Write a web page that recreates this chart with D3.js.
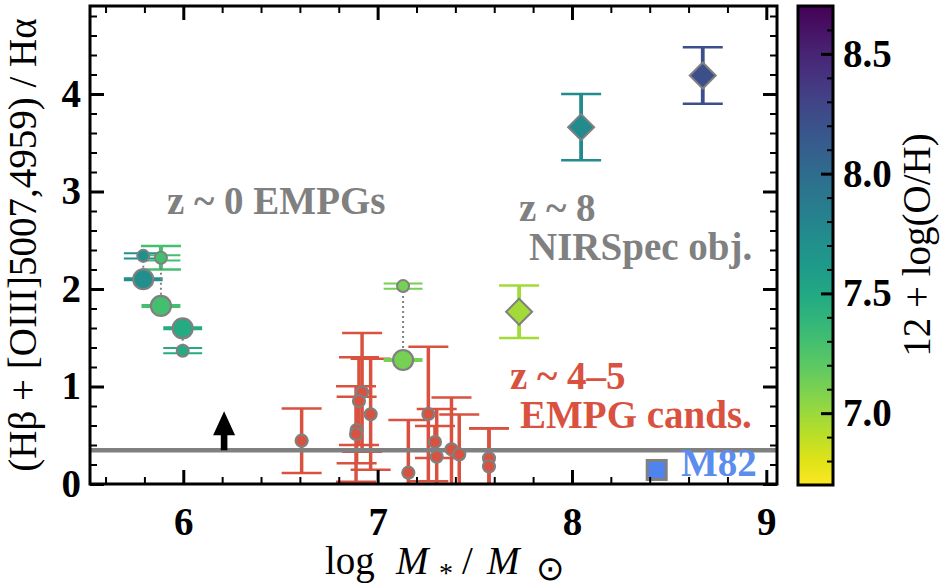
<!DOCTYPE html>
<html>
<head>
<meta charset="utf-8">
<script src="https://cdn.jsdelivr.net/npm/d3@7"></script>
<style>
  body { margin: 0; background: #ffffff; }
  svg { display: block; font-family: "Liberation Serif", "Times New Roman", Times, serif; }
</style>
</head>
<body>
<svg id="chart" width="944" height="587"></svg>
<script>
// ---------------- data ----------------
// z ~ 0 extremely metal-poor galaxies (two ratio estimates per galaxy)
const localMass        = [5.794, 5.885, 5.997, 7.131];
const localMassErr     = [0.10, 0.10, 0.10, 0.10];
const localRatioMain   = [2.10, 1.826, 1.597, 1.272];
const localRatioAlt    = [2.34, 2.32, 1.367, 2.03];
const localRatioAltErr = [0, 0.12, 0, 0];
const localOH          = [7.70, 7.30, 7.48, 7.12];

// z ~ 8 NIRSpec objects
const nirspecMass  = [7.728, 8.047, 8.673];
const nirspecRatio = [1.767, 3.66, 4.19];
const nirspecErr   = [0.27, 0.34, 0.29];
const nirspecOH    = [6.98, 7.74, 8.22];

// z ~ 4-5 EMPG candidates
const candMass  = [6.609, 6.920, 6.904, 6.964, 6.892, 6.889, 7.158, 7.261, 7.295, 7.304, 7.38, 7.42, 7.573, 7.573];
const candRatio = [0.444, 0.940, 0.851, 0.715, 0.554, 0.513, 0.116, 0.718, 0.431, 0.280, 0.356, 0.304, 0.263, 0.180];
const candErr   = [0.33, 0.61, 0.45, 0.57, 0.34, 0.49, 0.54, 0.69, 0.165, 0.49, 0.53, 0.41, 0.31, 0.39];

// M82
const m82Mass = 8.436;
const m82Ratio = 0.144;

// reference level and lower-limit arrow
const refLevel = 0.345;
const arrowMass = 6.21;
const arrowFrom = 0.345;
const arrowTo = 0.745;

// ticks
const xTicks = [6, 7, 8, 9];
const yTicks = [0, 1, 2, 3, 4];
const cbTicks = [7.0, 7.5, 8.0, 8.5];
const ohRange = [6.7, 8.7];

// ---------------- layout ----------------
const SERIF = "Liberation Serif, Times New Roman, serif";
const svg = d3.select("#chart");
const L = 90, R = 777, T = 6, B = 484;
const x = d3.scaleLinear().domain([5.52, 9.055]).range([L, R]);
const y = d3.scaleLinear().domain([0, 4.9]).range([B, B - 4.9 * 97.5]);
const ohColor = v => d3.interpolateViridis(1 - (v - ohRange[0]) / (ohRange[1] - ohRange[0]));

const FS = 39;
const edge = "#808080";
const red = "#d9513f";
const cap = 20;

svg.append("defs").append("clipPath").attr("id", "plotclip")
  .append("rect").attr("x", L).attr("y", T).attr("width", R - L).attr("height", B - T);

const plot = svg.append("g").attr("clip-path", "url(#plotclip)");

// vertical error bar with caps
function vErr(g, cx, v, e, color, w) {
  g.append("line").attr("x1", x(cx)).attr("x2", x(cx))
    .attr("y1", y(v - e)).attr("y2", y(v + e))
    .attr("stroke", color).attr("stroke-width", w);
  [v - e, v + e].forEach(t => {
    g.append("line").attr("x1", x(cx) - cap).attr("x2", x(cx) + cap)
      .attr("y1", y(t)).attr("y2", y(t))
      .attr("stroke", color).attr("stroke-width", 2.5);
  });
}

// z ~ 4-5 candidates: error bars
const candBars = plot.append("g");
candMass.forEach((m, i) => vErr(candBars, m, candRatio[i], candErr[i], red, 3.5));

// z ~ 8: error bars
const nsBars = plot.append("g");
nirspecMass.forEach((m, i) => vErr(nsBars, m, nirspecRatio[i], nirspecErr[i], ohColor(nirspecOH[i]), 3.8));

// z ~ 0: error bars
const locBars = plot.append("g");
localMass.forEach((m, i) => {
  const c = ohColor(localOH[i]);
  locBars.append("line")
    .attr("x1", x(m - localMassErr[i])).attr("x2", x(m + localMassErr[i]))
    .attr("y1", y(localRatioMain[i])).attr("y2", y(localRatioMain[i]))
    .attr("stroke", c).attr("stroke-width", 4);
  [-2.6, 2.6].forEach(off => {
    locBars.append("line")
      .attr("x1", x(m - localMassErr[i])).attr("x2", x(m + localMassErr[i]))
      .attr("y1", y(localRatioAlt[i]) + off).attr("y2", y(localRatioAlt[i]) + off)
      .attr("stroke", c).attr("stroke-width", 2);
  });
  if (localRatioAltErr[i] > 0) vErr(locBars, m, localRatioAlt[i], localRatioAltErr[i], c, 4);
});

// reference level
plot.append("line").attr("x1", L).attr("x2", R)
  .attr("y1", y(refLevel)).attr("y2", y(refLevel))
  .attr("stroke", "#808080").attr("stroke-width", 4.5);

// dotted connectors between the two estimates
plot.append("g").selectAll("line").data(localMass).join("line")
  .attr("x1", d => x(d)).attr("x2", d => x(d))
  .attr("y1", (d, i) => y(localRatioAlt[i])).attr("y2", (d, i) => y(localRatioMain[i]))
  .attr("stroke", "#808080").attr("stroke-width", 2).attr("stroke-dasharray", "2,3");

// candidate markers
plot.append("g").selectAll("circle").data(candMass).join("circle")
  .attr("cx", d => x(d)).attr("cy", (d, i) => y(candRatio[i])).attr("r", 6)
  .attr("fill", red).attr("stroke", edge).attr("stroke-width", 2.2);

// z ~ 0 markers
const locMarks = plot.append("g");
locMarks.selectAll("circle.alt").data(localMass).join("circle").attr("class", "alt")
  .attr("cx", d => x(d)).attr("cy", (d, i) => y(localRatioAlt[i])).attr("r", 6)
  .attr("fill", (d, i) => ohColor(localOH[i])).attr("stroke", edge).attr("stroke-width", 2);
locMarks.selectAll("circle.main").data(localMass).join("circle").attr("class", "main")
  .attr("cx", d => x(d)).attr("cy", (d, i) => y(localRatioMain[i])).attr("r", 10)
  .attr("fill", (d, i) => ohColor(localOH[i])).attr("stroke", edge).attr("stroke-width", 2.2);

// z ~ 8 diamonds
const dh = 13;
plot.append("g").selectAll("path").data(nirspecMass).join("path")
  .attr("transform", (d, i) => `translate(${x(d)},${y(nirspecRatio[i])})`)
  .attr("d", `M0,${-dh}L${dh},0L0,${dh}L${-dh},0Z`)
  .attr("fill", (d, i) => ohColor(nirspecOH[i])).attr("stroke", edge).attr("stroke-width", 2);

// M82
const sq = 19;
plot.append("rect")
  .attr("x", x(m82Mass) - sq / 2).attr("y", y(m82Ratio) - sq / 2)
  .attr("width", sq).attr("height", sq)
  .attr("fill", "#4f84ee").attr("stroke", edge).attr("stroke-width", 3);

// lower-limit arrow
{
  const ax = x(arrowMass), y0 = y(arrowFrom), y1 = y(arrowTo);
  const hw = 11, hh = 24, sw = 3.3;
  plot.append("path")
    .attr("d", `M${ax - sw},${y0}L${ax - sw},${y1 + hh}L${ax - hw},${y1 + hh}L${ax},${y1}` +
               `L${ax + hw},${y1 + hh}L${ax + sw},${y1 + hh}L${ax + sw},${y0}Z`)
    .attr("fill", "#000");
}

// ---------------- axes ----------------
const minorX = d3.range(5.6, 9.05, 0.2).map(v => +v.toFixed(1)).filter(v => !xTicks.includes(v));
const minorY = d3.range(0.2, 4.9, 0.2).map(v => +v.toFixed(1)).filter(v => !yTicks.includes(v));

function styleAxis(g) {
  g.select(".domain").remove();
  g.selectAll(".tick line").attr("stroke", "#000");
}
function styleLabels(g) {
  g.selectAll(".tick text").attr("font-size", FS).attr("font-weight", "bold")
    .attr("fill", "#000").attr("font-family", SERIF);
}

const axBottom = svg.append("g").attr("transform", `translate(0,${B})`)
  .call(d3.axisBottom(x).tickValues(xTicks).tickSizeInner(-14).tickSizeOuter(0).tickPadding(23).tickFormat(d3.format("d")));
axBottom.call(styleAxis).call(styleLabels);
axBottom.selectAll(".tick line").attr("stroke-width", 3);

svg.append("g").attr("transform", `translate(0,${B})`)
  .call(d3.axisBottom(x).tickValues(minorX).tickSizeInner(-7).tickSizeOuter(0).tickFormat(""))
  .call(styleAxis).selectAll(".tick line").attr("stroke-width", 2);

svg.append("g").attr("transform", `translate(0,${T})`)
  .call(d3.axisTop(x).tickValues(xTicks).tickSizeInner(-14).tickSizeOuter(0).tickFormat(""))
  .call(styleAxis).selectAll(".tick line").attr("stroke-width", 3);
svg.append("g").attr("transform", `translate(0,${T})`)
  .call(d3.axisTop(x).tickValues(minorX).tickSizeInner(-7).tickSizeOuter(0).tickFormat(""))
  .call(styleAxis).selectAll(".tick line").attr("stroke-width", 2);

const axLeft = svg.append("g").attr("transform", `translate(${L},0)`)
  .call(d3.axisLeft(y).tickValues(yTicks).tickSizeInner(-14).tickSizeOuter(0).tickPadding(9).tickFormat(d3.format("d")));
axLeft.call(styleAxis).call(styleLabels);
axLeft.selectAll(".tick line").attr("stroke-width", 3);

svg.append("g").attr("transform", `translate(${L},0)`)
  .call(d3.axisLeft(y).tickValues(minorY).tickSizeInner(-7).tickSizeOuter(0).tickFormat(""))
  .call(styleAxis).selectAll(".tick line").attr("stroke-width", 2);

svg.append("g").attr("transform", `translate(${R},0)`)
  .call(d3.axisRight(y).tickValues(yTicks).tickSizeInner(-14).tickSizeOuter(0).tickFormat(""))
  .call(styleAxis).selectAll(".tick line").attr("stroke-width", 3);
svg.append("g").attr("transform", `translate(${R},0)`)
  .call(d3.axisRight(y).tickValues(minorY).tickSizeInner(-7).tickSizeOuter(0).tickFormat(""))
  .call(styleAxis).selectAll(".tick line").attr("stroke-width", 2);

// frame
svg.append("rect").attr("x", L).attr("y", T).attr("width", R - L).attr("height", B - T)
  .attr("fill", "none").attr("stroke", "#000").attr("stroke-width", 3);

// ---------------- colour bar ----------------
const cbL = 798, cbR = 833;
const cb = d3.scaleLinear().domain(ohRange).range([485, 6]);
const grad = svg.select("defs").append("linearGradient").attr("id", "ohgrad")
  .attr("x1", 0).attr("y1", 1).attr("x2", 0).attr("y2", 0);
d3.range(0, 1.0001, 0.05).forEach(t => {
  grad.append("stop").attr("offset", t)
    .attr("stop-color", ohColor(ohRange[0] + t * (ohRange[1] - ohRange[0])));
});
svg.append("rect").attr("x", cbL).attr("y", cb(ohRange[1])).attr("width", cbR - cbL)
  .attr("height", cb(ohRange[0]) - cb(ohRange[1])).attr("fill", "url(#ohgrad)");

const cbMinor = d3.range(6.8, 8.7, 0.1).map(v => +v.toFixed(1)).filter(v => !cbTicks.includes(v));
const axCb = svg.append("g").attr("transform", `translate(${cbR},0)`)
  .call(d3.axisRight(cb).tickValues(cbTicks).tickSizeInner(-12).tickSizeOuter(0).tickPadding(10).tickFormat(d3.format(".1f")));
axCb.call(styleAxis).call(styleLabels);
axCb.selectAll(".tick line").attr("stroke-width", 3);
svg.append("g").attr("transform", `translate(${cbR},0)`)
  .call(d3.axisRight(cb).tickValues(cbMinor).tickSizeInner(-6).tickSizeOuter(0).tickFormat(""))
  .call(styleAxis).selectAll(".tick line").attr("stroke-width", 2);

svg.append("rect").attr("x", cbL).attr("y", cb(ohRange[1])).attr("width", cbR - cbL)
  .attr("height", cb(ohRange[0]) - cb(ohRange[1]))
  .attr("fill", "none").attr("stroke", "#000").attr("stroke-width", 3);

svg.append("text").attr("transform", "translate(930,245) rotate(-90)")
  .attr("text-anchor", "middle").attr("font-size", FS).attr("fill", "#000")
  .attr("font-family", SERIF)
  .text("12 + log(O/H)");

// ---------------- axis titles ----------------
svg.append("text").attr("transform", `translate(36,${(T + B) / 2}) rotate(-90)`)
  .attr("text-anchor", "middle").attr("font-size", FS).attr("fill", "#000")
  .attr("font-family", SERIF)
  .text("(Hβ + [OIII]5007,4959) / Hα");

// log M_* / M_sun, laid out piece by piece like math text
const xl = svg.append("text").attr("y", 574).attr("font-size", FS).attr("fill", "#000")
  .attr("font-family", SERIF);
xl.append("tspan").attr("x", 325).text("log");
xl.append("tspan").attr("x", 396).attr("font-style", "italic").text("M");
xl.append("tspan").attr("x", 439).attr("dy", 8).attr("font-size", 28).text("*");
xl.append("tspan").attr("x", 462).attr("dy", -8).text("/");
xl.append("tspan").attr("x", 487).attr("font-style", "italic").text("M");
xl.append("tspan").attr("x", 536).attr("dy", 6).attr("font-size", 34).text("\u2299");

// ---------------- annotations ----------------
function note(tx, ty, str, color) {
  svg.append("text").attr("x", tx).attr("y", ty).attr("font-size", FS)
    .attr("font-family", SERIF)
    .attr("font-weight", "bold").attr("fill", color).text(str);
}
note(167, 214, "z ~ 0 EMPGs", "#808080");
note(519, 221, "z ~ 8", "#808080");
note(529, 260, "NIRSpec obj.", "#808080");
note(510, 389, "z ~ 4\u20135", red);
note(520, 428, "EMPG cands.", red);
note(681, 476, "M82", "#5b8dee");
</script>
</body>
</html>
